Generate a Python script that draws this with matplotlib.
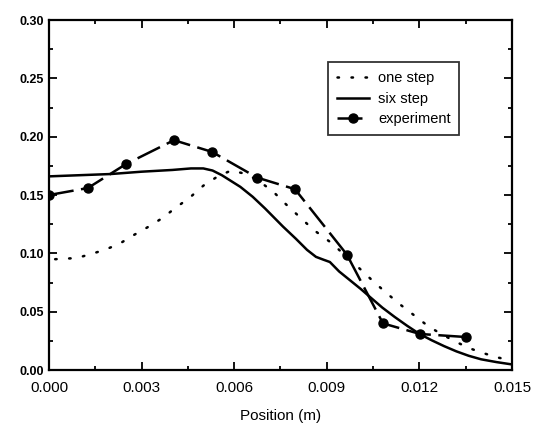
import numpy as np
import matplotlib
matplotlib.use("Agg")
import matplotlib.pyplot as plt
from matplotlib.ticker import MultipleLocator

plt.rcParams['font.family'] = ['Liberation Sans', 'DejaVu Sans']

# one step (dotted)
one_x = [0.0002, 0.0009, 0.00136, 0.0018, 0.00227, 0.0027, 0.00317, 0.00366, 0.0041,
         0.00457, 0.005, 0.00547, 0.0059, 0.0064, 0.0068, 0.00726, 0.00768, 0.00813,
         0.00858, 0.0092, 0.0096, 0.01008, 0.01053, 0.01098, 0.0114, 0.01186, 0.01228,
         0.0127, 0.0132, 0.0136, 0.01406, 0.0145, 0.015]
one_y = [0.095, 0.096, 0.0994, 0.103, 0.108, 0.115, 0.122, 0.130, 0.139,
         0.148, 0.158, 0.166, 0.171, 0.168, 0.162, 0.153, 0.142, 0.131,
         0.120, 0.108, 0.098, 0.0866, 0.0754, 0.065, 0.0557, 0.0463, 0.0377,
         0.031, 0.024, 0.0189, 0.0146, 0.011, 0.008]

# six step (solid)
six_x = [0.0, 0.001, 0.002, 0.003, 0.004, 0.0046, 0.005, 0.0053, 0.0056, 0.0059,
         0.0062, 0.0066, 0.0070, 0.00758, 0.0080, 0.00836, 0.00865, 0.0089, 0.0091,
         0.0094, 0.00975, 0.0101, 0.0104, 0.0108, 0.0112, 0.0116, 0.012, 0.0124,
         0.0128, 0.0132, 0.0136, 0.014, 0.0145, 0.015]
six_y = [0.166, 0.167, 0.168, 0.170, 0.1715, 0.1728, 0.1728, 0.171, 0.167, 0.162,
         0.157, 0.1485, 0.1385, 0.123, 0.1125, 0.103, 0.097, 0.0945, 0.0926,
         0.0845, 0.077, 0.0695, 0.0626, 0.0535, 0.0455, 0.038, 0.031, 0.0255,
         0.0205, 0.016, 0.0122, 0.0092, 0.0068, 0.0048]

# experiment
exp_x = [0.0, 0.00126, 0.0025, 0.00405, 0.00528, 0.00674, 0.00797, 0.00965,
         0.01082, 0.01202, 0.01351]
exp_y = [0.150, 0.156, 0.1766, 0.197, 0.187, 0.165, 0.155, 0.099,
         0.040, 0.0309, 0.0283]

fig = plt.figure(figsize=(5.37, 4.4), dpi=100)
ax = fig.add_axes([0.0912, 0.159, 0.8622, 0.7955])

ax.plot(one_x, one_y, color='black', lw=1.8, linestyle=(0, (0.6, 5.0)),
        dash_capstyle='round', label='one step')
ax.plot(six_x, six_y, color='black', lw=1.8, label='six step')
ax.plot(exp_x, exp_y, color='black', lw=1.8, linestyle=(0, (10, 3)),
        marker='o', markersize=6.5, label='experiment')

ax.set_xlim(0, 0.015)
ax.set_ylim(0, 0.30)
ax.xaxis.set_major_locator(MultipleLocator(0.003))
ax.xaxis.set_minor_locator(MultipleLocator(0.0015))
ax.yaxis.set_major_locator(MultipleLocator(0.05))
ax.yaxis.set_minor_locator(MultipleLocator(0.025))
ax.tick_params(which='both', direction='in', top=True, right=True, width=1.3)
ax.tick_params(which='major', length=6)
ax.tick_params(which='minor', length=3)
ax.tick_params(axis='x', labelsize=11, pad=8)
ax.tick_params(axis='y', labelsize=9)
ax.set_xticks([0.0, 0.003, 0.006, 0.009, 0.012, 0.015])
ax.set_xticklabels(['0.000', '0.003', '0.006', '0.009', '0.012', '0.015'])
ax.set_yticks([0.0, 0.05, 0.10, 0.15, 0.20, 0.25, 0.30])
ax.set_yticklabels(['0.00', '0.05', '0.10', '0.15', '0.20', '0.25', '0.30'],
                   fontweight='bold')
for s in ax.spines.values():
    s.set_linewidth(1.6)

ax.set_xlabel('Position (m)', fontsize=11, labelpad=10)

leg = ax.legend(loc='upper right', bbox_to_anchor=(0.902, 0.9), fontsize=10.5,
                frameon=True, fancybox=False, edgecolor='black', handlelength=2.2,
                borderpad=0.6, labelspacing=0.45, handletextpad=0.6)
leg.get_frame().set_linewidth(1.3)

fig.savefig('out.png', dpi=100)
